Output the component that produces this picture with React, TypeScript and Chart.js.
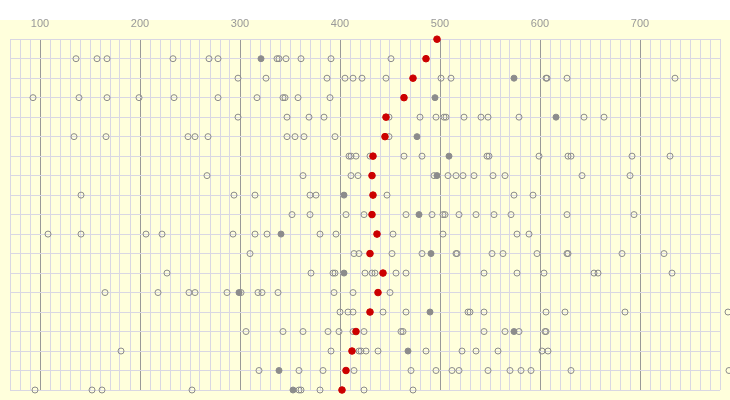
import React, { useEffect, useRef } from 'react';
import { Chart, registerables } from 'chart.js';

Chart.register(...registerables);

// Red median point of each row (row 0 at top)
const medians: number[] = [497, 486, 473, 464, 446, 445, 433, 432, 433, 432, 437, 430, 443, 438, 430, 416, 412, 406, 402];

// Gray filled points per row
const filled: number[][] = [
  [], [321], [574], [495], [616], [477], [509], [497], [404], [479],
  [341], [491], [404], [299], [490], [574], [468], [339], [353],
];

// Hollow points per row
const hollow: number[][] = [
  [],
  [136, 157, 167, 233, 269, 278, 337, 339, 346, 361, 391, 451],
  [298, 326, 387, 405, 413, 422, 446, 501, 511, 606, 607, 627, 735],
  [93, 139, 167, 199, 234, 278, 317, 343, 345, 358, 390],
  [298, 347, 369, 384, 449, 480, 496, 504, 506, 524, 541, 548, 579, 644, 664],
  [134, 166, 248, 255, 268, 347, 355, 364, 395, 449],
  [409, 411, 416, 430, 464, 482, 547, 549, 599, 628, 631, 692, 730],
  [267, 363, 411, 418, 494, 508, 516, 523, 534, 553, 565, 642, 690],
  [141, 294, 315, 370, 376, 447, 574, 593],
  [352, 370, 406, 424, 466, 492, 503, 505, 519, 536, 554, 571, 627, 694],
  [108, 141, 206, 222, 293, 315, 327, 380, 396, 453, 503, 577, 589],
  [310, 414, 419, 452, 482, 516, 517, 552, 563, 597, 627, 628, 682, 724],
  [227, 371, 393, 395, 425, 432, 435, 456, 466, 544, 577, 604, 654, 658, 732],
  [165, 218, 249, 255, 287, 301, 318, 322, 338, 394, 413, 450],
  [400, 408, 413, 443, 466, 528, 530, 544, 606, 625, 685, 788],
  [306, 343, 363, 388, 399, 413, 424, 461, 463, 544, 565, 579, 605, 606],
  [181, 391, 419, 421, 426, 438, 486, 522, 536, 558, 602, 608],
  [319, 359, 383, 414, 471, 496, 512, 519, 548, 570, 581, 591, 631, 789],
  [95, 152, 162, 252, 359, 361, 380, 424, 473],
];

const xTickLabels: number[] = [100, 200, 300, 400, 500, 600, 700];
const xMin = 70;
const xMax = 780;
const xGridStep = 10;

const toPoints = (rows: number[][]) =>
  rows.flatMap((vals, r) => vals.map((v) => ({ x: v, y: r })));

const bgPlugin = {
  id: 'bgPlugin',
  beforeDraw(chart: any) {
    const { ctx, width, height } = chart;
    ctx.save();
    ctx.fillStyle = '#ffffdc';
    ctx.fillRect(0, 20, width, height - 20);
    ctx.restore();
  },
  beforeDatasetsDraw(chart: any) {
    chart.$savedArea = chart.chartArea;
    chart.chartArea = { ...chart.chartArea, left: 0, top: 0, right: chart.width, bottom: chart.height };
  },
  afterDatasetsDraw(chart: any) {
    if (chart.$savedArea) chart.chartArea = chart.$savedArea;
  },
};

export default function App() {
  const ref = useRef<HTMLCanvasElement | null>(null);

  useEffect(() => {
    document.body.style.margin = '0';
    const canvas = ref.current;
    if (!canvas) return;
    const gridValues: number[] = [];
    for (let v = xMin; v <= xMax; v += xGridStep) gridValues.push(v);
    const rowValues = medians.map((_, i) => i);

    const chart = new Chart(canvas, {
      type: 'scatter',
      data: {
        datasets: [
          {
            label: 'median',
            data: medians.map((v, r) => ({ x: v, y: r })),
            pointRadius: 3.3,
            pointBorderWidth: 1,
            pointBackgroundColor: '#cc0000',
            pointBorderColor: '#cc0000',
            clip: false as any,
          },
          {
            label: 'filled',
            data: toPoints(filled),
            pointRadius: 3,
            pointBorderWidth: 1,
            pointBackgroundColor: '#8c8c8c',
            pointBorderColor: '#8c8c8c',
            clip: false as any,
          },
          {
            label: 'hollow',
            data: toPoints(hollow),
            pointRadius: 3,
            pointBorderWidth: 1,
            pointBackgroundColor: 'rgba(0,0,0,0)',
            pointBorderColor: '#8c8c8c',
            clip: false as any,
          },
        ],
      },
      options: {
        animation: false,
        responsive: false,
        devicePixelRatio: 1,
        events: [],
        layout: { padding: { left: 10, right: 10, top: 8, bottom: 10 } },
        plugins: { legend: { display: false }, tooltip: { enabled: false } },
        scales: {
          x: {
            type: 'linear',
            position: 'top',
            min: xMin,
            max: xMax,
            afterBuildTicks: (scale: any) => {
              scale.ticks = gridValues.map((v) => ({ value: v }));
            },
            ticks: {
              autoSkip: false,
              maxRotation: 0,
              minRotation: 0,
              padding: 9,
              color: '#999999',
              font: { family: 'Liberation Sans, Arial, sans-serif', size: 11 },
              callback: (value: any) => (xTickLabels.includes(Number(value)) ? String(value) : ''),
            },
            grid: {
              drawTicks: false,
              lineWidth: 1,
              color: (ctx: any) =>
                ctx.tick && xTickLabels.includes(ctx.tick.value) ? '#999999' : '#d9d7e3',
            },
            border: { display: false },
          },
          y: {
            type: 'linear',
            min: 0,
            max: medians.length - 1,
            reverse: true,
            afterBuildTicks: (scale: any) => {
              scale.ticks = rowValues.map((v) => ({ value: v }));
            },
            ticks: { display: false },
            grid: { drawTicks: false, lineWidth: 1, color: '#d9d7e3' },
            border: { display: false },
          },
        },
      },
      plugins: [bgPlugin],
    });
    return () => chart.destroy();
  }, []);

  return <canvas ref={ref} width={730} height={400} style={{ display: 'block' }} />;
}
